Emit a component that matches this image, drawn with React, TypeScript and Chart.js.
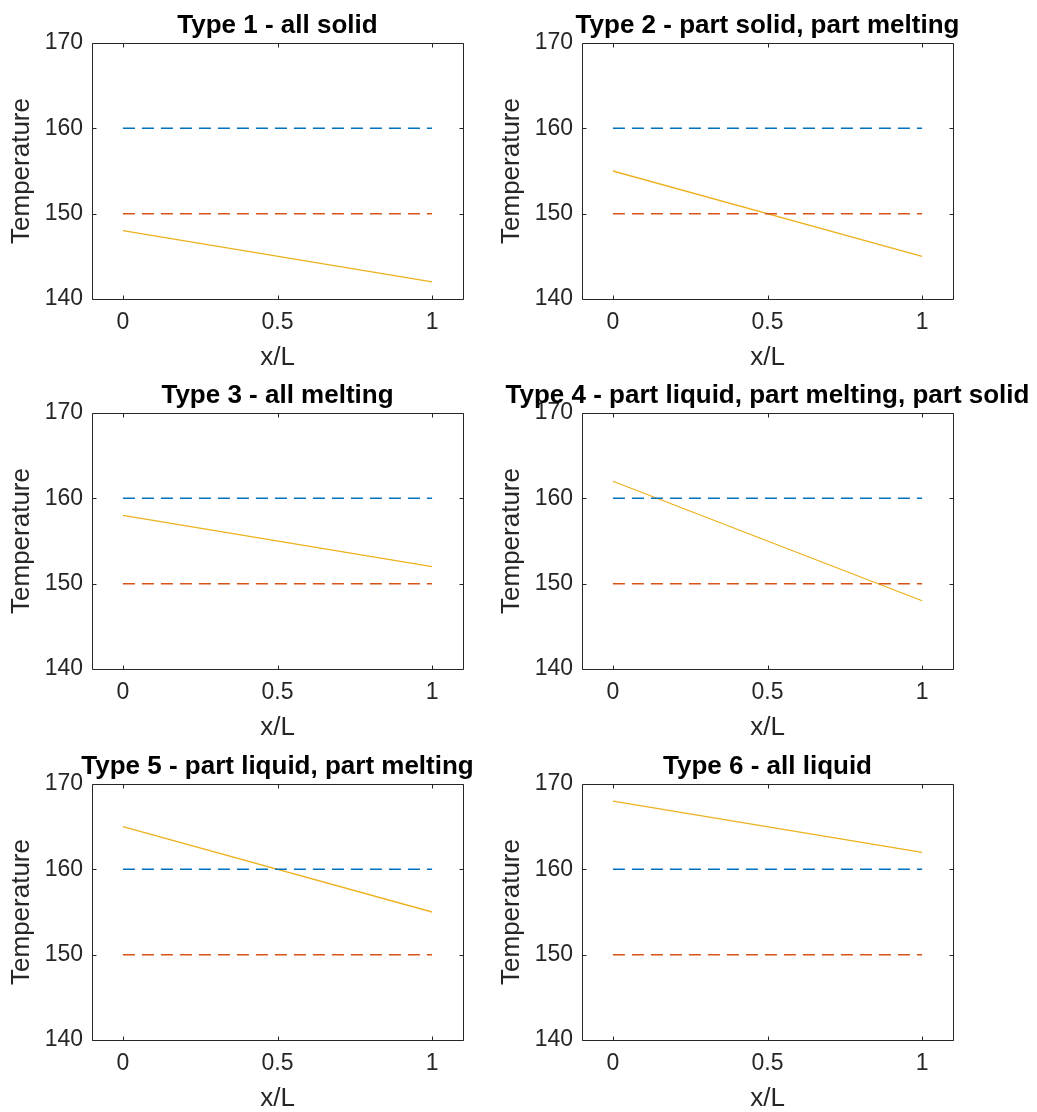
import React, { useEffect, useRef } from "react";
import { Chart, registerables } from "chart.js";

Chart.register(...registerables);

// ---- data ----
const xPositions = [0, 1];
const liquidusTemps = [160, 160];
const solidusTemps = [150, 150];
const type1Temps = [148, 142];
const type2Temps = [155, 145];
const type3Temps = [158, 152];
const type4Temps = [162, 148];
const type5Temps = [165, 155];
const type6Temps = [168, 162];
const panelTitles = [
  "Type 1 - all solid",
  "Type 2 - part solid, part melting",
  "Type 3 - all melting",
  "Type 4 - part liquid, part melting, part solid",
  "Type 5 - part liquid, part melting",
  "Type 6 - all liquid",
];
const profiles = [type1Temps, type2Temps, type3Temps, type4Temps, type5Temps, type6Temps];
const xTicks = [0, 0.5, 1];
const yTicks = [140, 150, 160, 170];
const xLabel = "x/L";
const yLabel = "Temperature";

const FONT = "'Liberation Sans', Arial, Helvetica, sans-serif";
const AXIS_COLOR = "#262626";

const boxPlugin = {
  id: "matlabBox",
  afterDraw(chart: any, _args: any, opts: any) {
    const { ctx, chartArea } = chart;
    const { left, right, top, bottom } = chartArea;
    const xs = chart.scales.x;
    const ys = chart.scales.y;
    ctx.save();
    ctx.strokeStyle = AXIS_COLOR;
    ctx.lineWidth = 1;
    ctx.beginPath();
    const L = Math.round(left) + 0.5;
    const R = Math.round(right) + 0.5;
    const T = Math.round(top) + 0.5;
    const B = Math.round(bottom) + 0.5;
    ctx.rect(L, T, R - L, B - T);
    const tl = 4;
    xTicks.forEach((v) => {
      const px = Math.round(xs.getPixelForValue(v)) + 0.5;
      ctx.moveTo(px, B);
      ctx.lineTo(px, B - tl);
      ctx.moveTo(px, T);
      ctx.lineTo(px, T + tl);
    });
    yTicks.forEach((v) => {
      const py = Math.round(ys.getPixelForValue(v)) + 0.5;
      ctx.moveTo(L, py);
      ctx.lineTo(L + tl, py);
      ctx.moveTo(R, py);
      ctx.lineTo(R - tl, py);
    });
    ctx.stroke();
    // title
    ctx.fillStyle = "#000";
    ctx.font = `bold 26px ${FONT}`;
    ctx.textAlign = "center";
    ctx.textBaseline = "alphabetic";
    ctx.fillText(opts.text, (left + right) / 2, top - 10);
    ctx.restore();
  },
};

function Panel({ idx, left, top }: { idx: number; left: number; top: number }) {
  const ref = useRef<HTMLCanvasElement>(null);
  useEffect(() => {
    if (!ref.current) return;
    const prof = profiles[idx];
    const chart = new Chart(ref.current, {
      type: "line",
      data: {
        datasets: [
          {
            data: xPositions.map((x, i) => ({ x, y: liquidusTemps[i] })),
            borderColor: "#0072BD",
            borderWidth: 1.5,
            borderDash: [12, 7],
            pointRadius: 0,
          },
          {
            data: xPositions.map((x, i) => ({ x, y: solidusTemps[i] })),
            borderColor: "#D95319",
            borderWidth: 1.5,
            borderDash: [12, 7],
            pointRadius: 0,
          },
          {
            data: xPositions.map((x, i) => ({ x, y: prof[i] })),
            borderColor: "#EDB120",
            borderWidth: 1.3,
            pointRadius: 0,
          },
        ],
      },
      options: {
        animation: false,
        responsive: false,
        devicePixelRatio: 1,
        layout: { padding: { top: 43, right: 84, left: 0, bottom: 0 } },
        plugins: {
          legend: { display: false },
          tooltip: { enabled: false },
          matlabBox: { text: panelTitles[idx] },
        } as any,
        scales: {
          x: {
            type: "linear",
            min: -0.1,
            max: 1.1,
            grid: { display: false, drawTicks: false },
            border: { display: false },
            afterBuildTicks: (s: any) => {
              s.ticks = xTicks.map((v) => ({ value: v }));
            },
            afterFit: (s: any) => {
              s.height = 72;
              s.paddingLeft = 0;
              s.paddingRight = 0;
            },
            ticks: {
              color: AXIS_COLOR,
              font: { family: FONT, size: 23 },
              padding: 10,
              maxRotation: 0,
              autoSkip: false,
              callback: (v: any) => String(v),
            },
            title: {
              display: true,
              text: xLabel,
              color: AXIS_COLOR,
              font: { family: FONT, size: 26, lineHeight: 1 },
              padding: { top: 0, bottom: 0 },
            },
          },
          y: {
            type: "linear",
            min: 140,
            max: 170,
            grid: { display: false, drawTicks: false },
            border: { display: false },
            afterBuildTicks: (s: any) => {
              s.ticks = yTicks.map((v) => ({ value: v }));
            },
            afterFit: (s: any) => {
              s.width = 92;
              s.paddingTop = 0;
              s.paddingBottom = 0;
            },
            ticks: {
              color: AXIS_COLOR,
              font: { family: FONT, size: 23 },
              padding: 9,
              autoSkip: false,
              callback: (v: any) => String(v),
            },
            title: {
              display: true,
              text: yLabel,
              color: AXIS_COLOR,
              font: { family: FONT, size: 26, lineHeight: 1 },
              padding: { top: 9, bottom: 0 },
            },
          },
        },
      },
      plugins: [boxPlugin],
    } as any);
    return () => chart.destroy();
  }, [idx]);
  return (
    <canvas
      ref={ref}
      width={547}
      height={371}
      style={{ position: "absolute", left, top, width: 547, height: 371 }}
    />
  );
}

export default function App() {
  const colLeft = [0, 490];
  const rowTop = [0, 370, 741];
  return (
    <div
      style={{
        position: "absolute",
        left: 0,
        top: 0,
        width: 1037,
        height: 1112,
        overflow: "hidden",
        background: "#fff",
      }}
    >
      {panelTitles.map((_, i) => (
        <Panel key={i} idx={i} left={colLeft[i % 2]} top={rowTop[Math.floor(i / 2)]} />
      ))}
    </div>
  );
}
